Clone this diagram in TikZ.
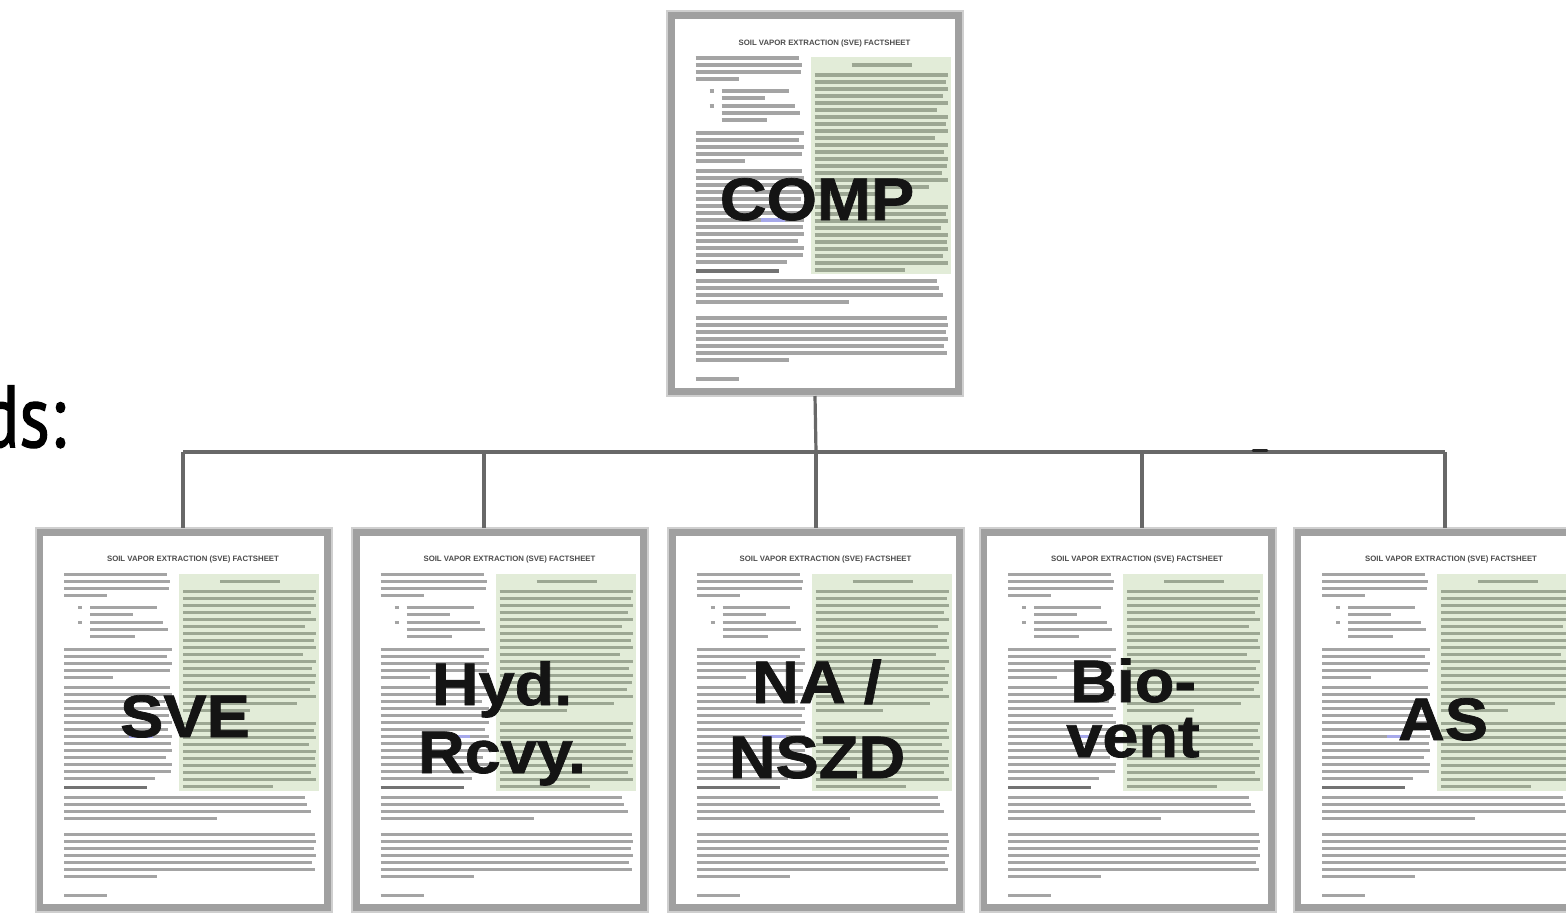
\documentclass[tikz,border=0pt]{standalone}
\usepackage{fontspec}
\setmainfont{Liberation Sans}
\newfontfamily\lblfont{Liberation Sans}[FakeStretch=1.08, BoldFeatures={FakeBold=1.2}]
\newfontfamily\dsfont{PT Sans}[FakeStretch=0.82, FakeBold=1.5]
\definecolor{boxgray}{HTML}{A0A0A0}
\definecolor{boxhalo}{HTML}{CFCFCF}
\definecolor{greenbg}{HTML}{E2ECD8}
\definecolor{conngray}{HTML}{686868}
\definecolor{txtgray}{HTML}{A4A4A4}
\definecolor{txtgreen}{HTML}{9CA793}
\definecolor{linkblue}{HTML}{A6A8EA}
\tikzset{
  docbox/.style={draw=boxgray, line width=4.2pt, fill=white, inner sep=0pt,
    minimum width=144.3pt, minimum height=188.3pt},
  halo/.style={draw=boxhalo, line width=1pt},
  txt/.style={draw=txtgray, line width=1.6pt},
  txtg/.style={draw=txtgreen, line width=1.6pt},
  txthead/.style={draw=black!55, line width=1.8pt},
  doctitle/.style={inner sep=0pt, text=black!70, font=\bfseries\fontsize{3.9}{4}\selectfont},
  lbl/.style={inner sep=0pt, text=black!92, align=center, font=\lblfont\bfseries\fontsize{30}{30}\selectfont},
  conn/.style={draw=conngray, line width=1.6pt},
}
\newcommand\mydocbody[1]{%
  \begin{scope}[shift={(#1.north west)}]
    \draw[halo] (0.5,0.5) rectangle (296.5,384.5);
    \fill[greenbg] (144,46) rectangle (284,263);
    \node[doctitle] at (158,32) {SOIL VAPOR EXTRACTION (SVE) FACTSHEET};
    % green column
    \draw[txtg] (185,54) -- (245,54);
    \foreach \y/\e in {64/281,71/279,78/281,85/276,92/281,99/270,106/281,113/279,120/281,127/268,134/281,141/277,148/281,155/280,162/275,169/281,176/262}
      \draw[txtg] (148,\y) -- (\e,\y);
    \draw[txtg] (148,183) -- (215,183);
    \foreach \y/\e in {196/281,203/279,210/281,217/274,224/281,231/280,238/281,245/276,252/281}
      \draw[txtg] (148,\y) -- (\e,\y);
    \draw[txtg] (148,259) -- (238,259);
    % left column
    \foreach \y/\e in {47/132,54/135,61/134}
      \draw[txt] (29,\y) -- (\e,\y);
    \draw[txt] (29,68) -- (72,68);
    \draw[txt] (43,80) -- (47,80);
    \draw[txt] (55,80) -- (122,80);
    \draw[txt] (55,87) -- (98,87);
    \draw[txt] (43,95) -- (47,95);
    \draw[txt] (55,95) -- (128,95);
    \draw[txt] (55,102) -- (133,102);
    \draw[txt] (55,109) -- (100,109);
    \foreach \y/\e in {122/137,129/132,136/137,143/135}
      \draw[txt] (29,\y) -- (\e,\y);
    \draw[txt] (29,150) -- (78,150);
    \foreach \y/\e in {160/135,167/137,174/130,181/137,188/134,195/137,202/133,209/137,216/136,223/137,230/131,237/137,244/136}
      \draw[txt] (29,\y) -- (\e,\y);
    \draw[linkblue, line width=1.6pt] (94,209) -- (118,209);
    \draw[txt] (29,251) -- (120,251);
    \draw[txthead] (29,260) -- (112,260);
    % full-width paragraphs
    \foreach \y/\e in {270/270,277/272,284/276}
      \draw[txt] (29,\y) -- (\e,\y);
    \draw[txt] (29,291) -- (182,291);
    \foreach \y/\e in {307/280,314/281,321/279,328/281,335/277,342/280}
      \draw[txt] (29,\y) -- (\e,\y);
    \draw[txt] (29,349) -- (122,349);
    \draw[txt] (29,368) -- (72,368);
  \end{scope}}
\begin{document}
\begin{tikzpicture}[x=0.5pt,y=-0.5pt]
\useasboundingbox (0,0) rectangle (1566,915);
\fill[white] (0,0) rectangle (1566,915);

% partial heading at left edge
\begin{scope}
  \clip (0,0) rectangle (1566,915);
  \node[inner sep=0pt, anchor=base east, font=\dsfont\fontsize{44}{44}\selectfont] (heading) at (66,447) {ds:};
\end{scope}

% boxes
\node[docbox] (comp) at (815,203.5) {};
\node[docbox] (sve)  at (183.5,720) {};
\node[docbox] (hyd)  at (500,720) {};
\node[docbox] (na)   at (816,720) {};
\node[docbox] (bio)  at (1127.5,720) {};
\node[docbox] (as)   at (1441.5,720) {};

\mydocbody{comp}
\mydocbody{sve}
\mydocbody{hyd}
\mydocbody{na}
\mydocbody{bio}
\mydocbody{as}

% labels (anchor base = baseline of the last line)
\node[lbl, anchor=base] (compl) at (817,220) {COMP};
\node[lbl, anchor=base] (svel)  at (185,737) {SVE};
\node[lbl, anchor=base, font=\lblfont\bfseries\fontsize{30}{34}\selectfont] (hydl) at (502,773) {Hyd.\\Rcvy.};
\node[lbl, anchor=base, font=\lblfont\bfseries\fontsize{30}{37.5}\selectfont] (nal) at (817,778) {NA /\\NSZD};
\node[lbl, anchor=base, font=\lblfont\bfseries\fontsize{30}{27.5}\selectfont] (biol) at (1133,757) {Bio-\\vent};
\node[lbl, anchor=base] (asl)   at (1443,740) {AS};

% connectors
\coordinate (busL) at (183,452);
\coordinate (busR) at (1445,452);
\coordinate (dHyd) at (484,452);
\coordinate (dBio) at (1142,452);
\coordinate (busC) at (816,452);
\draw[conn] (comp.south) -- (busC);
\draw[conn] (busL) -- (busR);
\draw[conn] (busL) -- (busL |- sve.north);
\draw[conn] (dHyd) -- (dHyd |- hyd.north);
\draw[conn] (busC) -- (busC |- na.north);
\draw[conn] (dBio) -- (dBio |- bio.north);
\draw[conn] (busR) -- (busR |- as.north);
\draw[black!85, line width=1.3pt, line cap=round] (1253,450.5) -- (1267,450.5);
\end{tikzpicture}
\end{document}
